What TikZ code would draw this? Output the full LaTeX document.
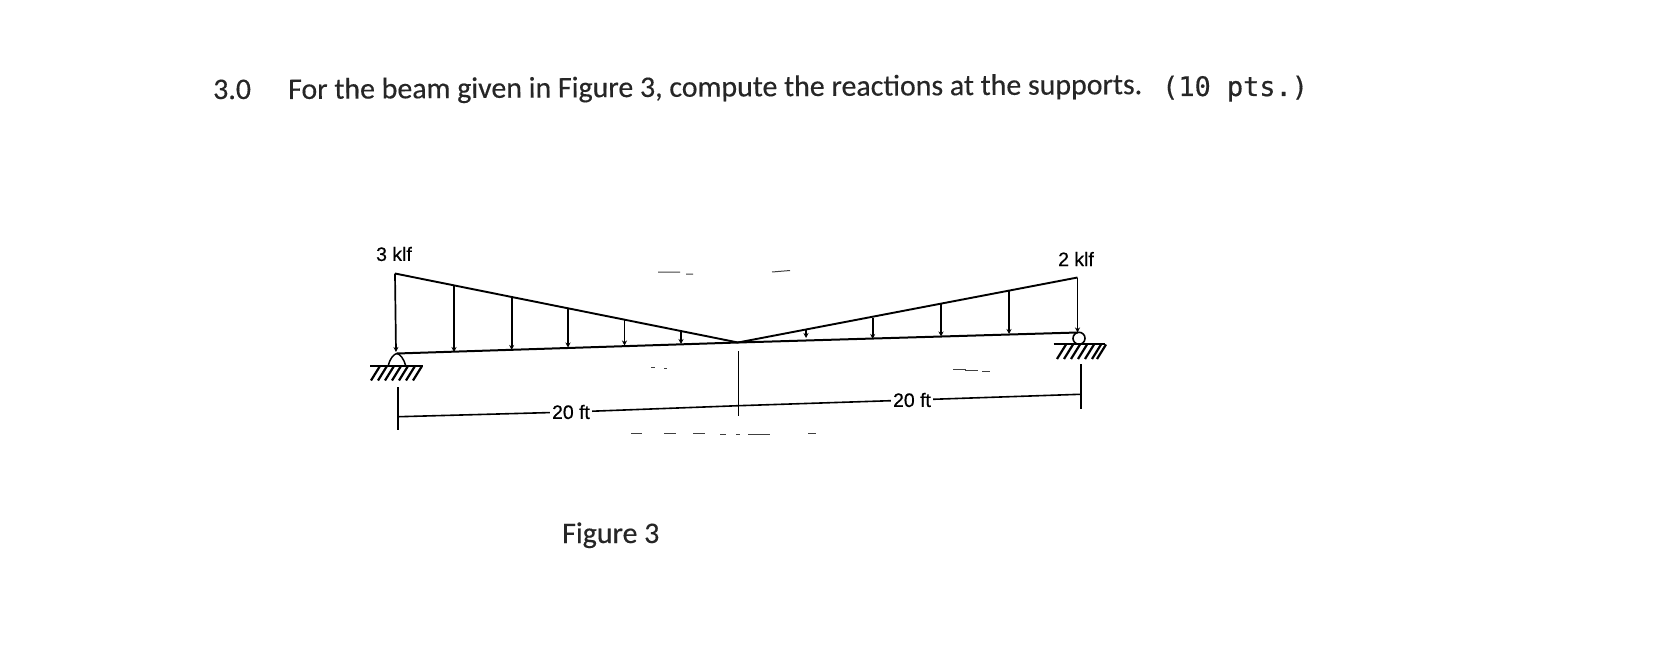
\documentclass[tikz,border=0pt]{standalone}
\usepackage{fontspec}
\setmainfont{Carlito}[RawFeature={embolden=0.35}]
\newfontfamily\figfont{Liberation Sans}[RawFeature={embolden=0.5}]
\newfontfamily\codefont{DejaVu Sans Mono}[RawFeature={embolden=0.5}]
\usetikzlibrary{arrows.meta}
\tikzset{
  x=1bp,y=-1bp,
  beam/.style={line width=2bp,black,line cap=round},
  load/.style={line width=1.9bp,black},
  loadarrow/.style={line width=1.7bp,black,-{Stealth[length=5bp,width=5bp]}},
  dim/.style={line width=1.6bp,black},
  hatch/.style={line width=2.2bp,black},
  speck/.style={line width=1bp,black!75},
  title/.style={inner sep=0pt,anchor=base west,font=\fontsize{30}{32}\selectfont,text=black!85},
  figlabel/.style={inner sep=0pt,font=\figfont\fontsize{19.5}{21}\selectfont,text=black},
}
\begin{document}
\begin{tikzpicture}
\useasboundingbox (0,0) rectangle (1666,651);
% text
\node[title] (num) at (213,99) {3.0};
\node[title,rotate=0.33] (stmt) at (288,99) {For the beam given in Figure 3, compute the reactions at the supports.};
\node[inner sep=0pt,anchor=base west,font=\codefont\fontsize{27}{29}\selectfont,text=black!85] (pts) at (1162,96) {(10 pts.)};
\node[title] (figcap) at (562,543) {Figure 3};
\node[figlabel] (lklf) at (394,254) {3 klf};
\node[figlabel] (rklf) at (1076,259) {2 klf};
\node[figlabel,fill=white,inner xsep=2bp] (ldim) at (571,412) {20 ft};
\node[figlabel,fill=white,inner xsep=2bp] (rdim) at (912,400) {20 ft};
% key points
\coordinate (lt) at (395,273.5);
\coordinate (la) at (397,353.5);
\coordinate (mid) at (738,342.5);
\coordinate (rt) at (1077.5,277.5);
\coordinate (ra) at (1077.5,332.5);
% load and beam
\draw[beam] (la) -- (mid) -- (ra);
\draw[load] (lt) -- (mid) -- (rt);
\draw[loadarrow] (lt) -- (396,352);
\draw[loadarrow] (rt) -- (ra);
\foreach \n/\x/\a/\b in {a/454/286/352,b/511.7/297.5/350,c/568/308.5/347.5,d/624.5/320/345.5,e/681/331/344,f/806/330/338,g/872.7/318/339,h/941/303.5/336.5,i/1009/291/334}{
  \coordinate (t\n) at (\x,\a);
  \coordinate (u\n) at (\x,\b);
  \draw[loadarrow] (t\n) -- (u\n);
}
% left support
\coordinate (lgl) at (370,365.7);
\coordinate (lgr) at (423,365.7);
\draw[line width=1.5bp] (388.3,365.7) .. controls (390,358) and (394,354) .. (la) .. controls (400,354) and (404,359) .. (405.7,365.7);
\draw[line width=2bp] (lgl) -- (lgr);
\foreach \x in {380,387,394,401,408,415,422}
  \draw[hatch] (\x,366) -- (\x-9,380.5);
% right support
\node[draw,circle,line width=1.6bp,minimum size=12bp,inner sep=0pt] (roller) at (1079,338.3) {};
\coordinate (rgl) at (1053.5,344.3);
\coordinate (rgr) at (1105,344.3);
\draw[line width=2bp] (rgl) -- (rgr);
\foreach \x in {1066,1073,1080,1087,1094,1101,1106}
  \draw[hatch] (\x,344.5) -- (\x-9,359);
% dimensions
\coordinate (dl1) at (397.7,387);
\coordinate (dl2) at (397.7,429.5);
\coordinate (dm1) at (738.5,351);
\coordinate (dm2) at (738.5,416);
\coordinate (dr1) at (1080.7,364);
\coordinate (dr2) at (1080.7,408.5);
\coordinate (dla) at (399,416.7);
\coordinate (dmm) at (738.5,405.7);
\coordinate (dra) at (1080,394.3);
\draw[dim] (dl1) -- (dl2);
\draw[dim] (dm1) -- (dm2);
\draw[dim] (dr1) -- (dr2);
\draw[dim] (dla) -- (ldim);
\draw[dim] (ldim) -- (dmm);
\draw[dim] (dmm) -- (rdim);
\draw[dim] (rdim) -- (dra);
% scanning specks
\draw[speck] (658,272) -- (680,272) (686,274) -- (693,274) (772,272) -- (790,270.5);
\draw[speck] (631,433.5) -- (642,433.5) (664,433.5) -- (676,433.5) (693,433.5) -- (705,433.5) (720,434) -- (726,434) (736,434) -- (740,434) (748,434) -- (770,434) (808,433.5) -- (816,433.5);
\draw[speck] (651,367) -- (655,367) (664,368) -- (667,368) (953,369) -- (966,369) (965,370) -- (978,370) (982,371) -- (990,371);
\end{tikzpicture}
\end{document}
